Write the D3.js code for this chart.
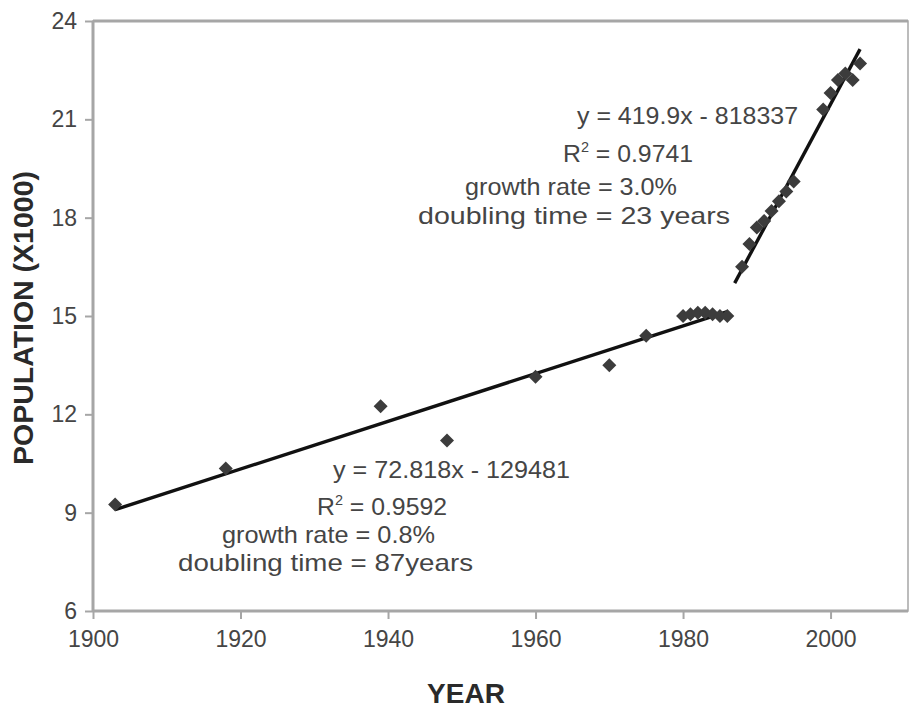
<!DOCTYPE html>
<html>
<head>
<meta charset="utf-8">
<script src="https://cdn.jsdelivr.net/npm/d3@7"></script>
<style>
  html, body { margin: 0; padding: 0; background: #fff; }
  svg { display: block; font-family: Arial, "Liberation Sans", sans-serif; }
</style>
</head>
<body>
<svg id="chart" width="911" height="709"></svg>
<script>
// ---- data ----
const years1 = [1903, 1918, 1939, 1948, 1960, 1970, 1975, 1980, 1981, 1982, 1983, 1984, 1985, 1986];
const pop1   = [9.25, 10.35, 12.25, 11.2, 13.15, 13.5, 14.4, 15.0, 15.05, 15.1, 15.1, 15.05, 15.0, 15.0];
const years2 = [1988, 1989, 1990, 1991, 1992, 1993, 1994, 1995, 1999, 2000, 2001, 2002, 2003, 2004];
const pop2   = [16.5, 17.2, 17.7, 17.9, 18.2, 18.5, 18.8, 19.1, 21.3, 21.8, 22.2, 22.4, 22.2, 22.7];

// trend lines (population in persons = slope*year + intercept)
const trendSlopes     = [72.818, 419.9];
const trendIntercepts = [-129481, -818337];
const trendStart      = [1903, 1987];
const trendEnd        = [1986, 2004];

const xTicks = [1900, 1920, 1940, 1960, 1980, 2000];
const yTicks = [6, 9, 12, 15, 18, 21, 24];

const annotTop = ["y = 419.9x - 818337", "R2 = 0.9741", "growth rate = 3.0%", "doubling time = 23 years"];
const annotBottom = ["y = 72.818x - 129481", "R2 = 0.9592", "growth rate = 0.8%", "doubling time = 87years"];

// ---- layout ----
const svg = d3.select("#chart");
const mLeft = 93, mRight = 908, mTop = 21, mBottom = 611;

const x = d3.scaleLinear().domain([1900, 2010.5]).range([mLeft, mRight]);
const y = d3.scaleLinear().domain([6, 24]).range([mBottom, mTop]);

const axisColor = "#a6a6a6";
const textColor = "#454545";

// plot frame
svg.append("rect")
  .attr("x", mLeft).attr("y", mTop)
  .attr("width", mRight - mLeft).attr("height", mBottom - mTop)
  .attr("fill", "none").attr("stroke", axisColor).attr("stroke-width", 1.5);
svg.append("line").attr("x1", mLeft).attr("x2", mRight).attr("y1", mTop).attr("y2", mTop)
  .attr("stroke", axisColor).attr("stroke-width", 3);

// axes
const yAxis = svg.append("g").attr("transform", `translate(${mLeft},0)`)
  .call(d3.axisLeft(y).tickValues(yTicks).tickSize(8).tickPadding(8).tickFormat(d3.format("d")));
const xAxis = svg.append("g").attr("transform", `translate(0,${mBottom})`)
  .call(d3.axisBottom(x).tickValues(xTicks).tickSize(8).tickPadding(12).tickFormat(d3.format("d")));

[yAxis, xAxis].forEach(g => {
  g.select(".domain").attr("stroke", axisColor).attr("stroke-width", 3);
  g.selectAll(".tick line").attr("stroke", axisColor).attr("stroke-width", 2);
  g.selectAll(".tick text").attr("fill", textColor).attr("font-size", 23)
    .attr("font-family", "Arial, 'Liberation Sans', sans-serif");
});
xAxis.select(".domain").attr("d", `M${mLeft},0H${mRight}`);
yAxis.select(".domain").attr("d", `M0,${mBottom}V${mTop}`);

// axis titles
svg.append("text")
  .attr("x", 466).attr("y", 703)
  .attr("text-anchor", "middle")
  .attr("font-weight", "bold").attr("font-size", 28).attr("fill", "#2a2a2a")
  .text("YEAR");
svg.append("text")
  .attr("transform", "translate(33,318) rotate(-90)")
  .attr("text-anchor", "middle")
  .attr("font-weight", "bold").attr("font-size", 28.5).attr("fill", "#2a2a2a")
  .text("POPULATION (X1000)");

// trend lines
const lineGen = d3.line().x(d => x(d[0])).y(d => y(d[1]));
trendSlopes.forEach((s, i) => {
  const f = yr => (s * yr + trendIntercepts[i]) / 1000;
  svg.append("path")
    .datum([[trendStart[i], f(trendStart[i])], [trendEnd[i], f(trendEnd[i])]])
    .attr("d", lineGen)
    .attr("fill", "none").attr("stroke", "#111").attr("stroke-width", 3.4);
});

// markers
const diamond = d3.symbol().type(d3.symbolSquare).size(98);
const pts = years1.map((yr, i) => [yr, pop1[i]]).concat(years2.map((yr, i) => [yr, pop2[i]]));
svg.append("g").selectAll("path").data(pts).join("path")
  .attr("d", diamond)
  .attr("transform", d => `translate(${x(d[0])},${y(d[1])}) rotate(45)`)
  .attr("fill", "#3c3c3c");

// annotations
function annot(lines, xs, ys, ws) {
  lines.forEach((t, i) => {
    const txt = svg.append("text")
      .attr("x", xs[i]).attr("y", ys[i])
      .attr("font-size", 24).attr("fill", textColor)
      .attr("textLength", ws[i]).attr("lengthAdjust", "spacingAndGlyphs");
    if (t.startsWith("R2")) {
      txt.append("tspan").text("R");
      txt.append("tspan").attr("font-size", 14).attr("dy", -10).text("2");
      txt.append("tspan").attr("dy", 10).text(t.slice(2));
    } else {
      txt.text(t);
    }
  });
}
annot(annotTop, [577, 563, 465, 418], [124, 162, 195, 224], [221, 130, 212, 312]);
annot(annotBottom, [333, 317, 222, 178], [478, 515, 543, 571], [237, 130, 213, 295]);
</script>
</body>
</html>
